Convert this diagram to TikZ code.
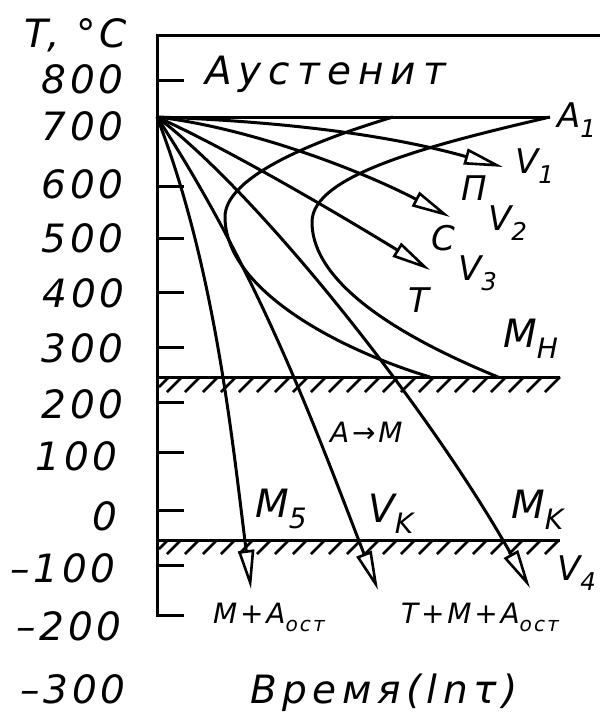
\documentclass[tikz,border=0pt]{standalone}
\usepackage{fontspec}
\setmainfont{DejaVu Sans}[LetterSpace=10]
\usepackage{graphicx}
\usepackage{tikz}
\usetikzlibrary{arrows.meta}

\newcommand{\lo}[1]{\raisebox{-.3em}{\scalebox{.72}{#1}}}

\tikzset{
  curve/.style={line width=3pt},
  cool/.style={curve, -{Triangle[length=39pt, width=16pt, fill=white, line width=2.6pt]}},
  hatch/.style={line width=2.6pt},
  num/.style={inner sep=0pt, font=\fontsize{39}{42}\selectfont\itshape},
  mlabel/.style={inner sep=0pt, font=\fontsize{39}{42}\selectfont\itshape},
  vlabel/.style={inner sep=0pt, font=\fontsize{34}{36}\selectfont\itshape},
  slabel/.style={inner sep=0pt, font=\fontsize{28}{30}\selectfont\itshape},
}

\begin{document}
\begin{tikzpicture}[x=1pt, y=-1pt]
  \useasboundingbox (0,0) rectangle (600,713);

  % Axis and ticks
  \draw[curve] (600,35) -- (157,35) -- (157,615) -- (184,615);
  \foreach \y in {80,186,238,292,347,402,452,510,565}
    \draw[curve] (157,\y) -- (184,\y);

  % Temperature scale
  \node[num, anchor=base east] (tunit) at (127,47) {T, °C};
  \foreach \lab/\x/\b/\nm in {800/124/93/a, 700/124/140/b, 600/124/198/c,
      500/124/252/d, 400/125/307/e, 300/124/362/f, 200/124/418/g,
      100/118/470/h, 0/118/530/i, –100/116/582/j, –200/122/640/k, –300/126/703/l}
    \node[num, anchor=base east] (t\nm) at (\x,\b) {\lab};

  % Critical points
  \coordinate (O) at (157,117);
  \coordinate (A1) at (550,117);
  \draw[curve] (O) -- (A1);
  \draw[curve] (157,377) -- (560,377);
  \draw[curve] (157,540) -- (560,540);
  \draw[hatch] (159,387) -- (169,377);
  \draw[hatch] (159,549) -- (168,540);
  \foreach \x in {167,185,...,545} {
    \draw[hatch] (\x,392) -- ++(15,-15);
    \draw[hatch] (\x,554) -- ++(14,-14);
  }

  % C-curves
  \draw[curve] (393,117) .. controls (300,145) and (225,180) .. (225,217)
               .. controls (225,290) and (340,350) .. (430,377);
  \draw[curve] (A1) .. controls (430,145) and (312,175) .. (312,222)
               .. controls (312,290) and (420,345) .. (498,377);

  % Cooling curves
  \coordinate (v1) at (503,167);
  \coordinate (v2) at (450,217);
  \coordinate (v3) at (430,270);
  \coordinate (v4) at (530,588);
  \coordinate (vk) at (378,590);
  \coordinate (m5) at (251,589);
  \draw[cool] (O) .. controls (300,122) and (400,138) .. (v1);
  \draw[cool] (O) .. controls (250,128) and (360,170) .. (v2);
  \draw[cool] (O) .. controls (230,150) and (340,215) .. (v3);
  \draw[cool] (O) .. controls (260,195) and (430,410) .. (v4);
  \draw[cool] (O) .. controls (261,277) and (316,430) .. (vk);
  \draw[cool] (O) .. controls (215,267) and (232,438) .. (m5);

  % Labels
  \node[num, anchor=base west] (aust) at (205,84) {\addfontfeature{LetterSpace=18}Аустенит};
  \node[vlabel, anchor=base west] (la1) at (557,127) {A\lo{1}};
  \node[vlabel, anchor=base west] (lv1) at (515,173) {V\lo{1}};
  \node[vlabel, anchor=base west] (lv2) at (488,230) {V\lo{2}};
  \node[vlabel, anchor=base west] (lv3) at (458,280) {V\lo{3}};
  \node[vlabel, anchor=base west] (lp) at (461,200) {П};
  \node[vlabel, anchor=base west] (lc) at (431,250) {С};
  \node[vlabel, anchor=base west] (lt) at (408,312) {Т};
  \node[mlabel, anchor=base west] (lmh) at (503,347) {M\lo{H}};
  \node[slabel, anchor=base west] (lam) at (330,442) {А→М};
  \node[mlabel, anchor=base west] (lm5) at (255,517) {M\lo{5}};
  \node[mlabel, anchor=base west] (lvk) at (368,522) {V\lo{K}};
  \node[mlabel, anchor=base west] (lmk) at (511,518) {M\lo{K}};
  \node[vlabel, anchor=base west] (lv4) at (557,580) {V\lo{4}};
  \node[slabel, anchor=base west] (lres1) at (213,623) {М+А\lo{ост}};
  \node[slabel, anchor=base west] (lres2) at (401,623) {Т+М+А\lo{ост}};
  \node[num, anchor=base] (ltime) at (384,703) {\addfontfeature{LetterSpace=14}Время(lnτ)};
\end{tikzpicture}
\end{document}
